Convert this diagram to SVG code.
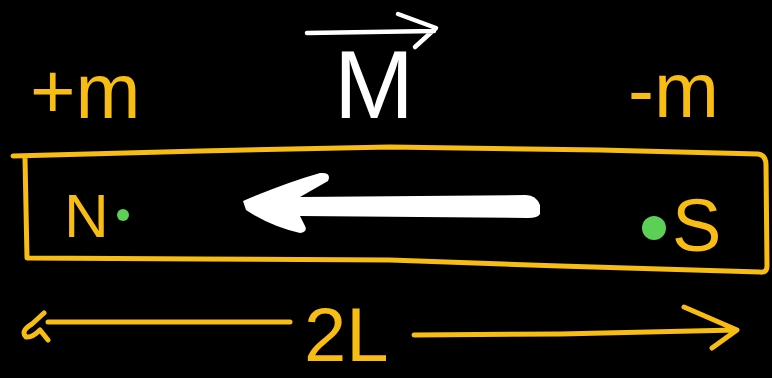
<svg xmlns="http://www.w3.org/2000/svg" width="772" height="378" viewBox="0 0 772 378">
<style>
.y{fill:none;stroke:#f8bd12;stroke-width:5;stroke-linecap:round;stroke-linejoin:round}
.w{fill:none;stroke:#ffffff;stroke-width:4.5;stroke-linecap:round;stroke-linejoin:round}
.ty{fill:#f8bd12;font-family:"Liberation Sans","DejaVu Sans",sans-serif}
.tw{fill:#ffffff;font-family:"Liberation Sans","DejaVu Sans",sans-serif}
.dot{fill:#5ccf55}
</style>
<rect width="772" height="378" fill="#000"/>
<g id="magnet">
<path class="y" d="M13,156 L200,151 L390,147 L600,150 L758,154 Q766,155 766,165 L767,266 Q767,273 760,272 L560,266 L390,260 L200,259 L27,258 L25,158"/>
</g>
<g id="labels">
<text class="ty" x="30" y="118" font-size="78">+m</text>
<text class="ty" x="628" y="117" font-size="78">-m</text>
<text class="tw" x="334" y="118" font-size="96">M</text>
<path class="w" d="M307,33 L434,31 M398,14 L436,28 L415,47"/>
<text class="ty" x="64" y="237" font-size="62">N</text>
<circle class="dot" cx="123" cy="215" r="6"/>
<circle class="dot" cx="654" cy="228" r="12"/>
<text class="ty" x="304" y="361" font-size="76">2L</text>
<text class="ty" x="672" y="251" font-size="74">S</text>
</g>
<g id="moment-arrow">
<path fill="#ffffff" d="M243,201 Q285,183 320,173 Q332,172 328,181 L300,197 L526,195 Q536,195 540,205 L540,214 Q538,218 528,218 L300,216 L304,224 Q309,232 300,233 Q270,226 246,210 Z"/>
</g>
<g id="length">
<path class="y" d="M48,322 L290,322 M44,313 L32,324 Q20,331 26,337 Q32,338 40,330 L48,340"/>
<path class="y" d="M414,335 L560,334 L736,330 M684,307 L737,330 L712,348"/>
</g>
</svg>
